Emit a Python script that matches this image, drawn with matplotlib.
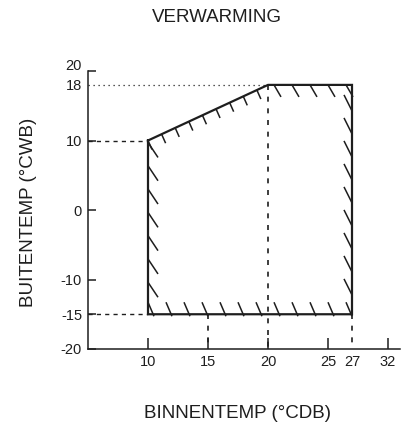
import numpy as np
import matplotlib.pyplot as plt

plt.rcParams['font.family'] = ['Liberation Sans', 'DejaVu Sans']

# Werkgebied verwarming: binnentemp (°CDB) tegen buitentemp (°CWB)
env_x = [10, 20, 27, 27, 10, 10]
env_y = [10, 18, 18, -15, -15, 10]

# as-indeling (schematisch: label 32 staat op plek 30)
xtick_pos = [10, 15, 20, 25, 27, 30]
xtick_lbl = ['10', '15', '20', '25', '27', '32']
ytick_pos = [18, 10, 0, -10, -15, -20]
ytick_lbl = ['18', '10', '0', '-10', '-15', '-20']

# hulplijnen
y_guides = [10, -15]      # gestreept vanaf de as tot x=10
x_guides = [15, 27]       # gestreept van -15 tot de as
x_top = 20                # gestreept van 18 tot de as
y_top = 18                # gestippeld vanaf de as tot x=20

ink = '#1e1e1e'

fig = plt.figure(figsize=(4.02, 4.30), dpi=100)
W, H = 402, 430
ax = fig.add_axes([88 / W, (H - 349) / H, (400 - 88) / W, (349 - 71) / H])
ax.set_xlim(5, 31)
ax.set_ylim(-20, 20)

for s in ['top', 'right']:
    ax.spines[s].set_visible(False)
for s in ['left', 'bottom']:
    ax.spines[s].set_linewidth(1.1)
    ax.spines[s].set_color(ink)

ax.set_xticks(xtick_pos, xtick_lbl)
ax.set_yticks(ytick_pos + [20], ytick_lbl + [''])
ax.tick_params(axis='x', direction='in', length=8, width=1.1, pad=4.5,
               labelsize=10.5, colors=ink)
ax.tick_params(axis='y', direction='in', length=6, width=1.1, pad=4.3,
               labelsize=10.5, colors=ink)
for t, v in zip(ax.xaxis.get_major_ticks(), xtick_pos):
    if v == 27:
        t.tick1line.set_visible(False)
for t, v in zip(ax.yaxis.get_major_ticks(), ytick_pos + [20]):
    if v == 18:
        t.tick1line.set_visible(False)
ax.annotate('20', xy=(0, 20), xycoords=('axes fraction', 'data'),
            xytext=(-6, 5), textcoords='offset pixels', ha='right',
            va='center', fontsize=10.5, color=ink)

# hulplijnen
ax.plot([5, x_top], [y_top, y_top], color=ink, lw=0.9, ls=(0, (1, 3)))
for yv in y_guides:
    ax.plot([5, env_x[0]], [yv, yv], color=ink, lw=1.0, ls=(0, (3, 3)))
ax.plot([x_top, x_top], [y_top, -20], color=ink, lw=1.2, ls=(0, (3, 4)))
for xv in x_guides:
    ax.plot([xv, xv], [-15, -20], color=ink, lw=1.2, ls=(0, (3, 4)))

# omtrek van het werkgebied
ax.plot(env_x, env_y, color=ink, lw=1.6, solid_joinstyle='miter')

# arcering langs de binnenkant, per zijde: (afstand, begin, streep, terug) in pixels
hatch = [
    (15, 0, (4, -9), (0, 0)),
    (18, 6, (7, -12), (0, 0)),
    (23, 26, (-8, 16), (0, 0)),
    (18, 1, (-5, 12), (1, -2)),
    (23.3, 32, (10, -15), (0, 0)),
]

tr = ax.transData
inv = tr.inverted()
for i, (step, first, vec, back) in enumerate(hatch):
    a = tr.transform((env_x[i], env_y[i]))
    b = tr.transform((env_x[i + 1], env_y[i + 1]))
    L = np.hypot(*(b - a))
    u = (b - a) / L
    t = first
    while t <= L + 0.5:
        p = a + u * t
        seg = inv.transform([p + np.array(back), p + np.array(vec)])
        ax.plot(seg[:, 0], seg[:, 1], color=ink, lw=1.1, solid_capstyle='butt')
        t += step

fig.text(217 / W, 1 - 18 / H, 'VERWARMING', ha='center', va='center',
         fontsize=13.5, color=ink)
fig.text(238 / W, 1 - 413 / H, 'BINNENTEMP (°CDB)', ha='center', va='center',
         fontsize=13.5, color=ink)
fig.text(29 / W, 1 - 212 / H, 'BUITENTEMP (°CWB)', ha='center', va='center',
         rotation=90, fontsize=13.5, color=ink)

fig.savefig('out.png', dpi=100)
